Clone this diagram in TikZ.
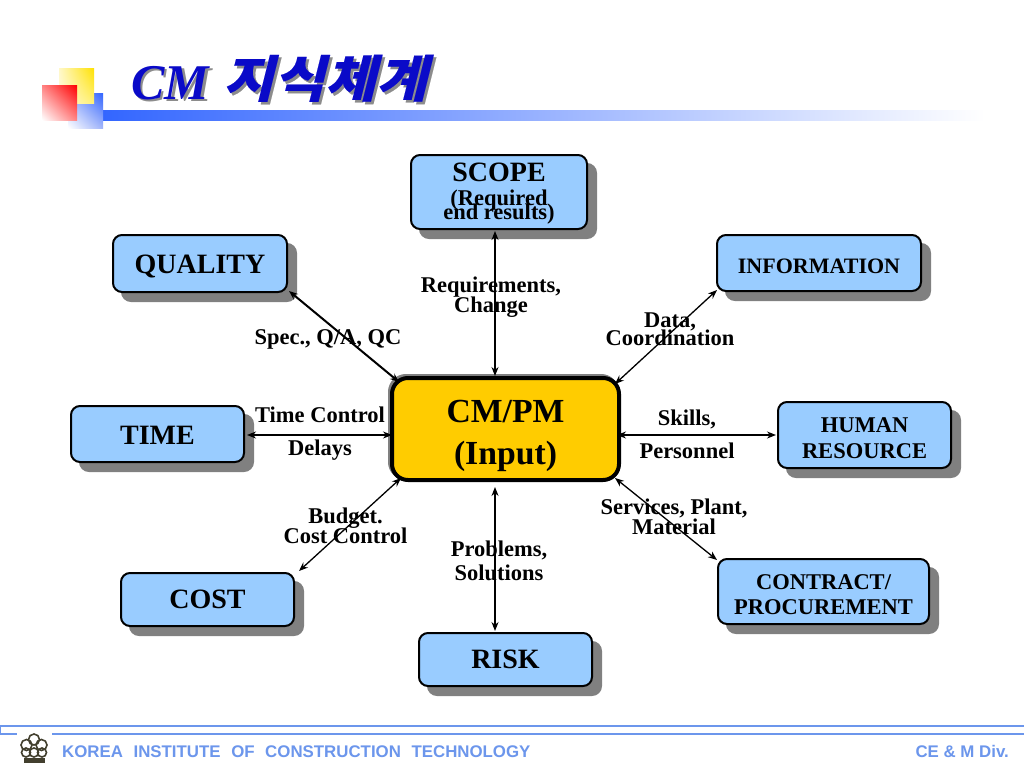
\documentclass[tikz,border=0pt]{standalone}
\usepackage{fontspec}
\usetikzlibrary{shadows,calc,shadings,arrows.meta}
\setmainfont{Liberation Serif}
\newfontfamily\sansf{Liberation Sans}
\newfontfamily\cjkf[FakeSlant=0.25,FakeBold=0.2,FakeStretch=1.11]{Noto Sans CJK KR}
\newcommand{\fs}[1]{\fontsize{#1}{#1}\selectfont}
\newcommand{\titletext}{\fs{50}\bfseries\itshape CM\hspace{0.28em}\raisebox{2pt}{\cjkf\fs{50}지식체계}}
\definecolor{boxblue}{HTML}{99CCFF}
\definecolor{coreyel}{HTML}{FFCC00}
\definecolor{shadowgray}{HTML}{808080}
\definecolor{footblue}{HTML}{6C96EC}
\definecolor{titleblue}{HTML}{0A0AC8}
\definecolor{barblue}{HTML}{3366FF}
\definecolor{bluemid}{HTML}{A0B4FA}
\definecolor{yelA}{HTML}{FFFAE1}
\definecolor{yelB}{HTML}{FFE100}
\definecolor{yelC}{HTML}{FFF8C8}
\definecolor{yelD}{HTML}{FFF078}
\definecolor{redmid}{HTML}{FF8282}
\tikzset{
  x=1pt,y=-1pt,
  box/.style={draw=black,line width=2pt,fill=boxblue,rounded corners=9pt,inner sep=0pt,
    copy shadow={shadow xshift=9pt,shadow yshift=-9pt,fill=shadowgray,draw=shadowgray}},
  core/.style={draw=black,line width=4pt,fill=coreyel,rounded corners=16pt,inner sep=0pt,
    copy shadow={shadow xshift=-2pt,shadow yshift=2pt,fill=shadowgray,draw=shadowgray}},
  lbl/.style={inner sep=0pt,align=center,font=\bfseries\fs{22.5}},
  big/.style={inner sep=0pt,anchor=base,font=\bfseries\fs{28}},
  link/.style={{Stealth[length=9pt,width=7pt]}-{Stealth[length=9pt,width=7pt]},line width=1.3pt,black},
  foot/.style={inner sep=0pt,text=footblue,font=\sansf\bfseries\fs{16.85}},
  footline/.style={draw=footblue,line width=2pt},
  logoring/.style={draw=black!70!olive,line width=1.6pt}
}
\begin{document}
\begin{tikzpicture}
\useasboundingbox (0,0) rectangle (1024,768);
\fill[white] (0,0) rectangle (1024,768);
% header decoration
\shade[left color=barblue,right color=white] (103,110) rectangle (985,120);
\shade[lower left=white,upper right=barblue,upper left=bluemid,lower right=bluemid] (68,93) rectangle (103,128);
\shade[lower left=yelA,upper right=yelB,upper left=yelC,lower right=yelD] (59,68) rectangle (94,103);
\shade[lower left=white,upper right=red,upper left=redmid,lower right=redmid] (42,85) rectangle (77,120);
% title
\node[anchor=base west,inner sep=0pt,text=black!45] (titleshade) at (133.5,101.5) {\titletext};
\node[anchor=base west,inner sep=0pt,text=titleblue] (title) at (131,99) {\titletext};
% boxes
\node[box,minimum width=176pt,minimum height=74pt] (scope) at (499,192) {};
\node[box,minimum width=174pt,minimum height=57pt] (quality) at (200,263.5) {};
\node[box,minimum width=204pt,minimum height=56pt] (info) at (819,263) {};
\node[box,minimum width=173pt,minimum height=56pt] (time) at (157.5,434) {};
\node[box,minimum width=173pt,minimum height=66pt] (human) at (864.5,435) {};
\node[box,minimum width=173pt,minimum height=53pt] (cost) at (207.5,599.5) {};
\node[box,minimum width=211pt,minimum height=65pt] (contract) at (823.5,591.5) {};
\node[box,minimum width=173pt,minimum height=53pt] (risk) at (505.5,659.5) {};
\node[core,minimum width=227pt,minimum height=102pt] (cm) at (505.5,429) {};
% connectors
\draw[link] ([xshift=-4pt,yshift=-1pt]scope.south) -- ([xshift=-10.5pt]cm.north);
\draw[link,line width=2pt] ([xshift=1pt,yshift=2pt]quality.south east) -- ([xshift=9pt,yshift=-6pt]cm.north west);
\draw[link] ([xshift=1pt,yshift=2pt]info.south west) -- ([xshift=-6pt,yshift=-8pt]cm.north east);
\draw[link] ([xshift=2pt,yshift=-1pt]time.east) -- ([xshift=2pt,yshift=-6pt]cm.west);
\draw[link] ([xshift=-4pt,yshift=-6pt]cm.east) -- ([xshift=-1pt]human.west);
\draw[link] ([xshift=4pt,yshift=1pt]cost.north east) -- ([xshift=11pt,yshift=4pt]cm.south west);
\draw[link] ([yshift=-2pt]contract.north west) -- ([xshift=-6pt,yshift=4pt]cm.south east);
\draw[link] ([xshift=-10.5pt,yshift=1pt]risk.north) -- ([xshift=-10.5pt,yshift=-5pt]cm.south);
% box texts
\node[big] (scopet) at (499,181) {SCOPE};
\node[lbl] (scopes) at (499,207) {(Required\\[-8pt]end results)};
\node[big] (qualityt) at (200,273.5) {QUALITY};
\node[inner sep=0pt,anchor=base,font=\bfseries\fs{22}] (infot) at (819,273) {INFORMATION};
\node[big] (timet) at (157.5,444) {TIME};
\node[lbl,font=\bfseries\fs{22.5}] (humant) at (864.5,438) {HUMAN\\[3pt]RESOURCE};
\node[big] (costt) at (207.5,608.5) {COST};
\node[lbl] (contractt) at (823.5,594.5) {CONTRACT/\\[3pt]PROCUREMENT};
\node[big] (riskt) at (505.5,668.5) {RISK};
\node[lbl,font=\bfseries\fs{33.7}] (cmt) at (505.5,436) {CM/PM\\[8pt](Input)};
% labels
\node[lbl] (l1) at (491,297) {Requirements,\\[-3pt]Change};
\node[lbl] (l2) at (328,339) {Spec., Q/A, QC};
\node[lbl] (l3) at (670,329) {Data,\\[-4pt]Coordination};
\node[lbl] (l4) at (320,415) {Time Control};
\node[lbl] (l5) at (320,450) {Delays};
\node[lbl] (l6) at (687,419) {Skills,};
\node[lbl] (l7) at (687,451) {Personnel};
\node[lbl] (l8) at (345.5,526) {Budget.\\[-2pt]Cost Control};
\node[lbl] (l9) at (674,517) {Services, Plant,\\[-3pt]Material};
\node[lbl] (l10) at (499,561) {Problems,\\[2pt]Solutions};
% footer
\draw[footline] (1024,725.5) -- (0,725.5) -- (0,733.5) -- (17,733.5);
\draw[footline] (52,733.5) -- (1024,733.5);
\begin{scope}[logoring]
\draw (34,739.5) circle (5.5);
\draw (26.5,745) circle (5.5);
\draw (41.5,745) circle (5.5);
\draw (26,752.5) circle (4.5);
\draw (34,752.5) circle (4.5);
\draw (42,752.5) circle (4.5);
\end{scope}
\fill[black!70!olive] (24,758) rectangle (45,763);
\node[foot,anchor=base west] (fl) at (62,757) {KOREA\hspace{0.35em} INSTITUTE\hspace{0.35em} OF\hspace{0.35em} CONSTRUCTION\hspace{0.35em} TECHNOLOGY};
\node[foot,anchor=base east] (fr) at (1009,757) {CE \& M Div.};
\end{tikzpicture}
\end{document}
